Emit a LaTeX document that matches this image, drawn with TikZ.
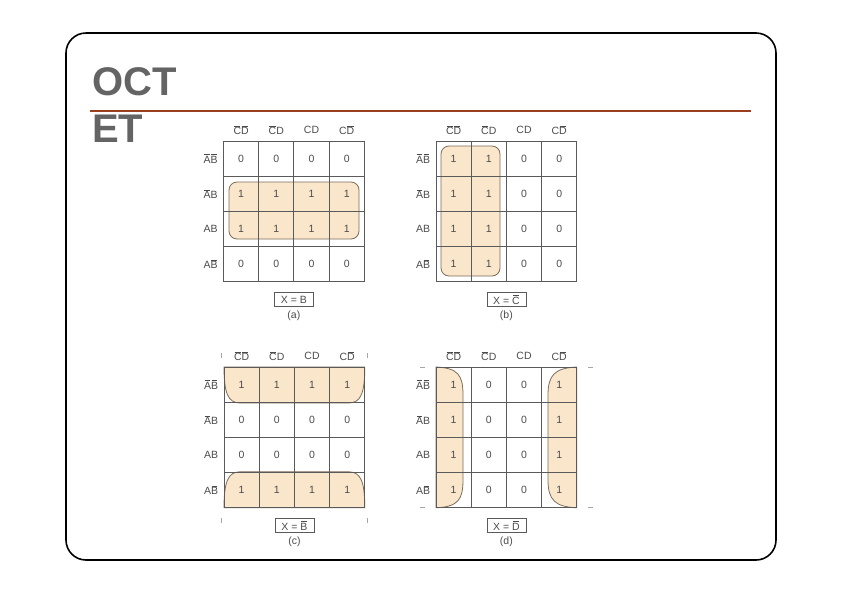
\documentclass[tikz,border=0pt]{standalone}
\usepackage{fontspec}
\setmainfont{Liberation Sans}
\definecolor{titlegray}{RGB}{100,100,100}
\definecolor{rulered}{RGB}{155,62,32}
\definecolor{groupfill}{RGB}{250,230,202}
\definecolor{groupline}{RGB}{125,108,90}
\definecolor{gridgray}{RGB}{90,90,90}
\definecolor{labelgray}{RGB}{75,75,75}
\newcommand{\nb}[1]{\mbox{\kern0.7pt$\overline{\mbox{\kern-0.7pt#1\kern-0.7pt}}$\kern0.7pt}}
\tikzset{
  kgrid/.style={draw=gridgray, line width=0.9pt},
  kgroup/.style={fill=groupfill, draw=groupline, line width=0.8pt},
  ktick/.style={draw=gray!70, line width=0.7pt},
  klabel/.style={text=labelgray, font=\fontsize{10.5}{12}\selectfont, inner sep=1pt},
  kval/.style={text=labelgray, font=\fontsize{10.5}{12}\selectfont, inner sep=1pt},
  kbox/.style={klabel, draw=gridgray, line width=0.7pt, inner sep=1pt, minimum width=39pt, minimum height=14pt},
  title/.style={text=titlegray, font=\fontsize{40}{44}\selectfont\bfseries, inner sep=0pt, anchor=base west}
}
\newcommand{\kmap}[4]{%
  \foreach \i in {0,...,4} {
    \draw[kgrid] (\i*35.2,0) -- (\i*35.2,140.8);
    \draw[kgrid] (0,\i*35.2) -- (140.8,\i*35.2);
  }
  \foreach \lab [count=\c from 0] in {\nb{C}\nb{D},\nb{C}D,CD,C\nb{D}}
    \node[klabel] (#1-col-\c) at (\c*35.2+17.6,-11) {\lab};
  \foreach \lab [count=\r from 0] in {\nb{A}\nb{B},\nb{A}B,AB,A\nb{B}}
    \node[klabel] (#1-row-\r) at (-13,\r*35.2+17.6) {\lab};
  \foreach \v [count=\n from 0] in {#2} {
    \pgfmathtruncatemacro\kr{div(\n,4)}
    \pgfmathtruncatemacro\kc{mod(\n,4)}
    \node[kval] (#1-\kr-\kc) at (\kc*35.2+17.6,\kr*35.2+17.6) {\v};
  }
  \node[kbox] (#1-eq) at (70.4,158.5) {#3};
  \node[klabel] (#1-cap) at (70.4,174.5) {#4};
}
\begin{document}
\begin{tikzpicture}[x=1pt,y=-1pt]
\useasboundingbox (0,0) rectangle (842,595);
\draw[line width=1.6pt, rounded corners=20pt] (66,33) rectangle (776,560);
\node[title] (oct) at (92,95) {OCT};
\node[title] (et) at (92,142) {ET};
\draw[rulered, line width=2.6pt] (90,111) -- (751,111);

\begin{scope}[shift={(223.5,141)}]
  \draw[kgroup, rounded corners=8pt] (5.5,41) rectangle (135.5,98);
  \kmap{a}{0,0,0,0,1,1,1,1,1,1,1,1,0,0,0,0}{X = B}{(a)}
\end{scope}

\begin{scope}[shift={(436,141)}]
  \draw[kgroup, rounded corners=8pt] (5,5) rectangle (64,135);
  \kmap{b}{1,1,0,0,1,1,0,0,1,1,0,0,1,1,0,0}{X = \nb{C}}{(b)}
\end{scope}

\begin{scope}[shift={(224,367)}]
  \draw[kgroup] (0,0) .. controls (0,26) and (4,36) .. (16,36) -- (124.8,36)
    .. controls (136.8,36) and (140.8,26) .. (140.8,0) -- cycle;
  \draw[kgroup] (0,140.8) .. controls (0,114.8) and (4,104.8) .. (16,104.8) -- (124.8,104.8)
    .. controls (136.8,104.8) and (140.8,114.8) .. (140.8,140.8) -- cycle;
  \draw[ktick] (-2.5,-14) -- (-2.5,-9.5);
  \draw[ktick] (143.3,-14) -- (143.3,-9.5);
  \draw[ktick] (-2.5,151) -- (-2.5,155.5);
  \draw[ktick] (143.3,151) -- (143.3,155.5);
  \kmap{c}{1,1,1,1,0,0,0,0,0,0,0,0,1,1,1,1}{X = \nb{B}}{(c)}
\end{scope}

\begin{scope}[shift={(436,367)}]
  \draw[kgroup] (0,0) .. controls (22,1) and (27,8) .. (27,28) -- (27,112.8)
    .. controls (27,132.8) and (22,139.8) .. (0,140.8) -- cycle;
  \draw[kgroup] (140.8,0) .. controls (118.8,1) and (112,8) .. (112,28) -- (112,112.8)
    .. controls (112,132.8) and (118.8,139.8) .. (140.8,140.8) -- cycle;
  \draw[ktick] (-16,0) -- (-11,0);
  \draw[ktick] (152,0) -- (157,0);
  \draw[ktick] (-16,140.8) -- (-11,140.8);
  \draw[ktick] (152,140.8) -- (157,140.8);
  \kmap{d}{1,0,0,1,1,0,0,1,1,0,0,1,1,0,0,1}{X = \nb{D}}{(d)}
\end{scope}
\end{tikzpicture}
\end{document}
